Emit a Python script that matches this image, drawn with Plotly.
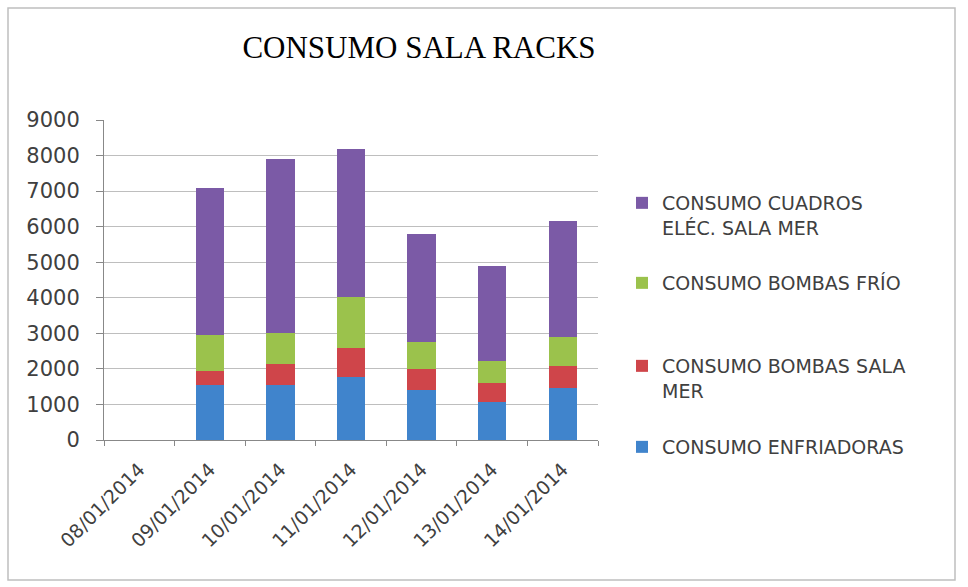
import plotly.graph_objects as go

dates = ["08/01/2014", "09/01/2014", "10/01/2014", "11/01/2014",
         "12/01/2014", "13/01/2014", "14/01/2014"]
enfriadoras = [0, 1550, 1550, 1780, 1400, 1080, 1450]
bombas_sala = [0, 400, 600, 800, 600, 530, 630]
bombas_frio = [0, 1000, 850, 1450, 750, 600, 820]
cuadros = [0, 4150, 4900, 4150, 3050, 2670, 3270]

series = [
    ("CONSUMO ENFRIADORAS", enfriadoras, "#4084CC", "legend4"),
    ("CONSUMO BOMBAS SALA<br>MER", bombas_sala, "#CF454A", "legend3"),
    ("CONSUMO BOMBAS FRÍO", bombas_frio, "#9BC24C", "legend2"),
    ("CONSUMO CUADROS<br>ELÉC. SALA MER", cuadros, "#7B5AA6", "legend"),
]

fig = go.Figure()
for name, vals, col, leg in series:
    fig.add_trace(go.Bar(x=dates, y=vals, name=name, marker_color=col,
                         marker_line_width=0, legend=leg, showlegend=True))

# plot area: x 104..598 px, y 120..440 px
def py(px):
    return (440 - px) / 320

leg_common = dict(x=(622 - 104) / 494, xanchor="left", yanchor="top",
                  font=dict(family="DejaVu Sans", size=19, color="#404040"),
                  itemwidth=30, valign="top", bgcolor="rgba(0,0,0,0)")

fig.update_layout(
    barmode="stack",
    bargap=0.6,
    showlegend=True,
    width=968, height=587,
    margin=dict(l=104, r=370, t=120, b=147),
    paper_bgcolor="white", plot_bgcolor="white",
    font=dict(family="DejaVu Sans", size=18, color="#404040"),
    title=dict(text="CONSUMO SALA RACKS", x=419/968, xanchor="center",
               y=1-47/587, yanchor="middle",
               font=dict(family="Liberation Serif", size=31, color="#000000")),
    legend=dict(y=py(184), **leg_common),
    legend2=dict(y=py(264), **leg_common),
    legend3=dict(y=py(347), **leg_common),
    legend4=dict(y=py(428), **leg_common),
    shapes=[dict(type="rect", xref="paper", yref="paper",
                 x0=-96/494, x1=(955-104)/494, y0=-(580-440)/320, y1=(440-8)/320,
                 line=dict(color="#BFBFBF", width=1.5))],
)
fig.update_yaxes(range=[0, 9000], dtick=1000, showgrid=True, gridcolor="#BEBEBE",
                 gridwidth=1, showline=True, linecolor="#888888", ticks="outside",
                 ticklen=7, tickcolor="#888888", zeroline=False,
                 ticklabelstandoff=12, tickfont=dict(size=21))
fig.update_xaxes(tickangle=-45, showline=True, linecolor="#888888", ticks="outside",
                 tickson="boundaries", ticklen=5, tickcolor="#888888",
                 ticklabelstandoff=10, tickfont=dict(size=19))
fig.write_html("out.html")
